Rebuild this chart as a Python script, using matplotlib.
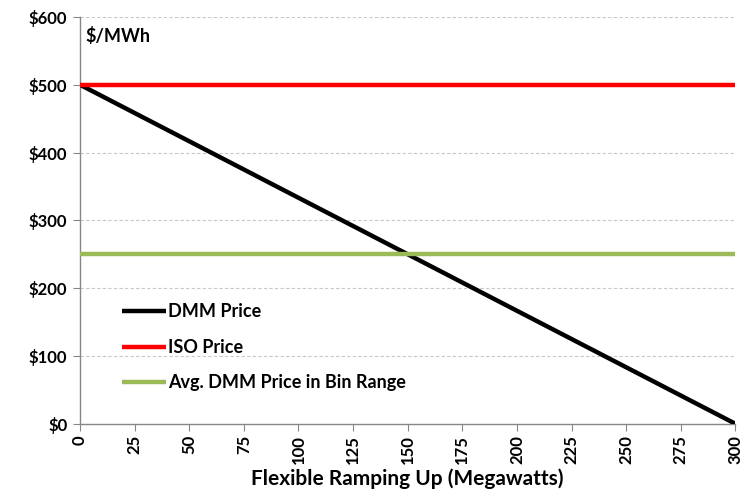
import matplotlib
matplotlib.use("Agg")
import matplotlib.pyplot as plt
from matplotlib.ticker import FuncFormatter

plt.rcParams['font.family'] = ['Lato', 'DejaVu Sans']
plt.rcParams['font.weight'] = 'bold'

ramp_mw = [0, 300]
dmm_price = [500, 0]
iso_price = [500, 500]
avg_dmm_price = [250, 250]
x_ticks = list(range(0, 301, 25))
y_ticks = list(range(0, 601, 100))

fig = plt.figure(figsize=(7.44, 4.98), dpi=100)
ax = fig.add_axes([0.1075, 0.149, 0.881, 0.817])

ax.plot(ramp_mw, dmm_price, color='black', lw=3.2, label='DMM Price', solid_capstyle='butt', zorder=3)
ax.plot(ramp_mw, iso_price, color='#ff0000', lw=3.2, label='ISO Price', solid_capstyle='butt', zorder=4)
ax.plot(ramp_mw, avg_dmm_price, color='#9bbb59', lw=3.2, label='Avg. DMM Price in Bin Range', solid_capstyle='butt', zorder=3)

ax.set_xlim(0, 300)
ax.set_ylim(0, 600)
ax.set_xticks(x_ticks)
ax.set_yticks(y_ticks)
ax.yaxis.set_major_formatter(FuncFormatter(lambda v, p: f"${int(v)}"))
ax.tick_params(axis='x', labelrotation=90, labelsize=12, length=5, color='#868686', pad=3)
ax.tick_params(axis='y', labelsize=12, length=5, color='#868686', pad=4)
for lab in ax.get_xticklabels() + ax.get_yticklabels():
    lab.set_fontweight('bold')

ax.grid(axis='y', color='#c8c8c8', linestyle=(0, (3, 2)), lw=0.8)
ax.set_axisbelow(True)
for s in ['top', 'right']:
    ax.spines[s].set_visible(False)
for s in ['left', 'bottom']:
    ax.spines[s].set_color('#868686')
    ax.spines[s].set_linewidth(1.0)

ax.set_xlabel('Flexible Ramping Up (Megawatts)', fontsize=15, fontweight='bold', labelpad=3)
ax.text(0.008, 0.975, '$/MWh', transform=ax.transAxes, fontsize=13, fontweight='bold',
        va='top', ha='left')

leg = ax.legend(loc='lower left', bbox_to_anchor=(0.04, 0.04), frameon=False, fontsize=13,
                handlelength=2.4, handletextpad=0.15, labelspacing=1.02)
for t in leg.get_texts():
    t.set_fontweight('bold')

fig.savefig('out.png', dpi=100)
